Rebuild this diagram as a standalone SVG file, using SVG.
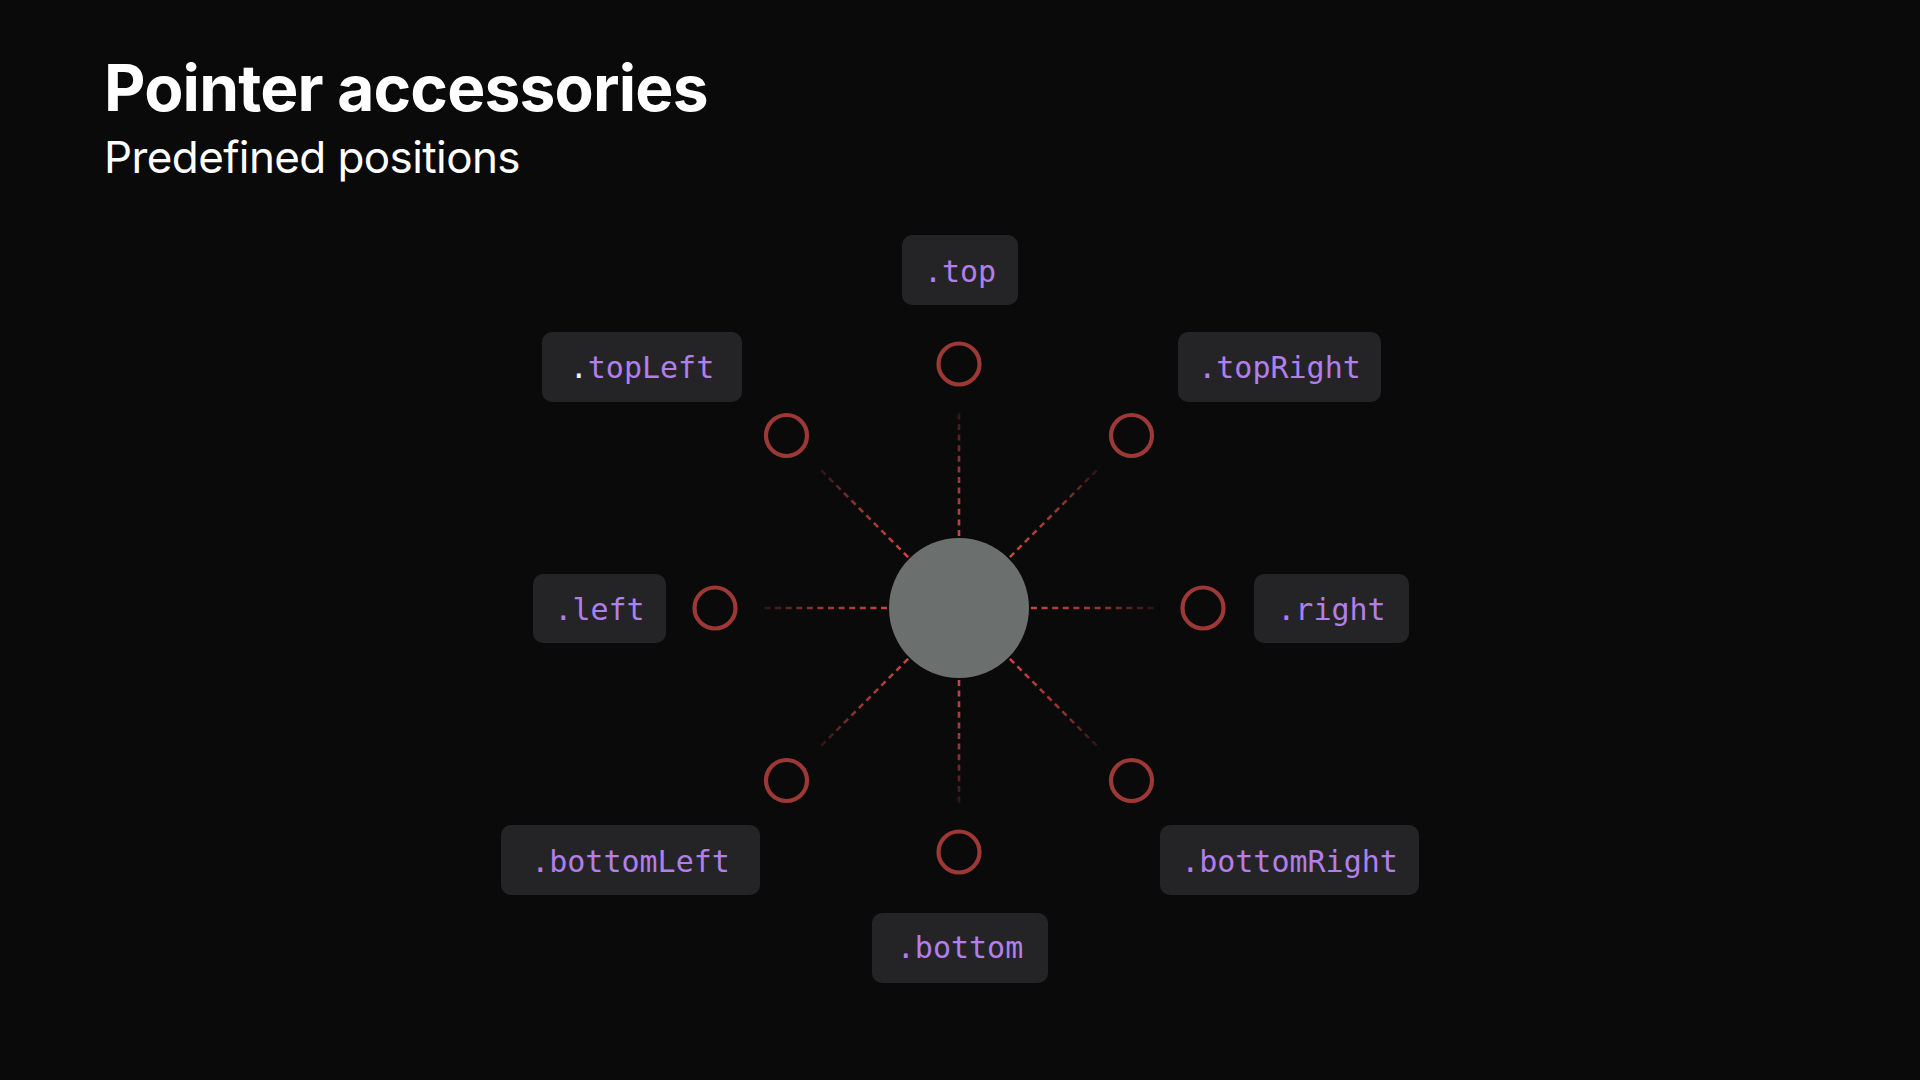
<svg xmlns="http://www.w3.org/2000/svg" xmlns:xlink="http://www.w3.org/1999/xlink" width="1920" height="1080" viewBox="0 0 1920 1080">
  <style>
    .title { font-family: Inter, "Noto Sans", "Liberation Sans", sans-serif; font-weight: 700; font-size: 64px; letter-spacing: -0.8px; fill: #ffffff; }
    .subtitle { font-family: Inter, "Noto Sans", "Liberation Sans", sans-serif; font-weight: 400; font-size: 44px; letter-spacing: -0.6px; fill: #ffffff; }
    .box { fill: #242427; }
    .label { font-family: "DejaVu Sans Mono", "Liberation Mono", monospace; font-size: 30px; fill: #b27fe9; text-anchor: middle; }
    .white { fill: #f2f2f2; }
    .ring { fill: none; stroke: #9c3835; stroke-width: 4.2; }
    .hub { fill: #6b6f6d; }
    .dash { stroke: url(#fade); stroke-width: 2.6; stroke-dasharray: 6 4.6; fill: none; }
  </style>
  <defs>
    <linearGradient id="fade" gradientUnits="userSpaceOnUse" x1="72" y1="0" x2="195" y2="0">
      <stop offset="0" stop-color="#c8463f" stop-opacity="1"/>
      <stop offset="0.6" stop-color="#b23f39" stop-opacity="0.8"/>
      <stop offset="1" stop-color="#8a3030" stop-opacity="0.3"/>
    </linearGradient>
    <line id="ray" class="dash" x1="72" y1="0" x2="195" y2="0"/>
  </defs>

  <rect width="1920" height="1080" fill="#0a0a0a"/>

  <text class="title" x="104" y="111">Pointer accessories</text>
  <text class="subtitle" x="104" y="173">Predefined positions</text>

  <g id="connectors">
    <use xlink:href="#ray" href="#ray" transform="translate(959,608) rotate(-90)"/>
    <use xlink:href="#ray" href="#ray" transform="translate(959,608) rotate(-45)"/>
    <use xlink:href="#ray" href="#ray" transform="translate(959,608) rotate(0)"/>
    <use xlink:href="#ray" href="#ray" transform="translate(959,608) rotate(45)"/>
    <use xlink:href="#ray" href="#ray" transform="translate(959,608) rotate(90)"/>
    <use xlink:href="#ray" href="#ray" transform="translate(959,608) rotate(135)"/>
    <use xlink:href="#ray" href="#ray" transform="translate(959,608) rotate(180)"/>
    <use xlink:href="#ray" href="#ray" transform="translate(959,608) rotate(-135)"/>
  </g>

  <g id="pointer">
    <circle class="hub" cx="959" cy="608" r="70"/>
  </g>

  <g id="top">
    <circle class="ring" cx="959" cy="364" r="20.5"/>
    <rect class="box" x="902" y="235" width="116" height="70" rx="10"/>
    <text class="label" x="960" y="282">.top</text>
  </g>

  <g id="topLeft">
    <circle class="ring" cx="786.5" cy="435.5" r="20.5"/>
    <rect class="box" x="542" y="332" width="200" height="70" rx="10"/>
    <text class="label" x="642" y="378"><tspan class="white">.</tspan>topLeft</text>
  </g>

  <g id="topRight">
    <circle class="ring" cx="1131.5" cy="435.5" r="20.5"/>
    <rect class="box" x="1178" y="332" width="203" height="70" rx="10"/>
    <text class="label" x="1279.5" y="378">.topRight</text>
  </g>

  <g id="left">
    <circle class="ring" cx="715" cy="608" r="20.5"/>
    <rect class="box" x="533" y="574" width="133" height="69" rx="10"/>
    <text class="label" x="599.5" y="620">.left</text>
  </g>

  <g id="right">
    <circle class="ring" cx="1203" cy="608" r="20.5"/>
    <rect class="box" x="1254" y="574" width="155" height="69" rx="10"/>
    <text class="label" x="1331.5" y="620">.right</text>
  </g>

  <g id="bottomLeft">
    <circle class="ring" cx="786.5" cy="780.5" r="20.5"/>
    <rect class="box" x="501" y="825" width="259" height="70" rx="10"/>
    <text class="label" x="630.5" y="872">.bottomLeft</text>
  </g>

  <g id="bottomRight">
    <circle class="ring" cx="1131.5" cy="780.5" r="20.5"/>
    <rect class="box" x="1160" y="825" width="259" height="70" rx="10"/>
    <text class="label" x="1289.5" y="872">.bottomRight</text>
  </g>

  <g id="bottom">
    <circle class="ring" cx="959" cy="852" r="20.5"/>
    <rect class="box" x="872" y="913" width="176" height="70" rx="10"/>
    <text class="label" x="960" y="958">.bottom</text>
  </g>
</svg>
